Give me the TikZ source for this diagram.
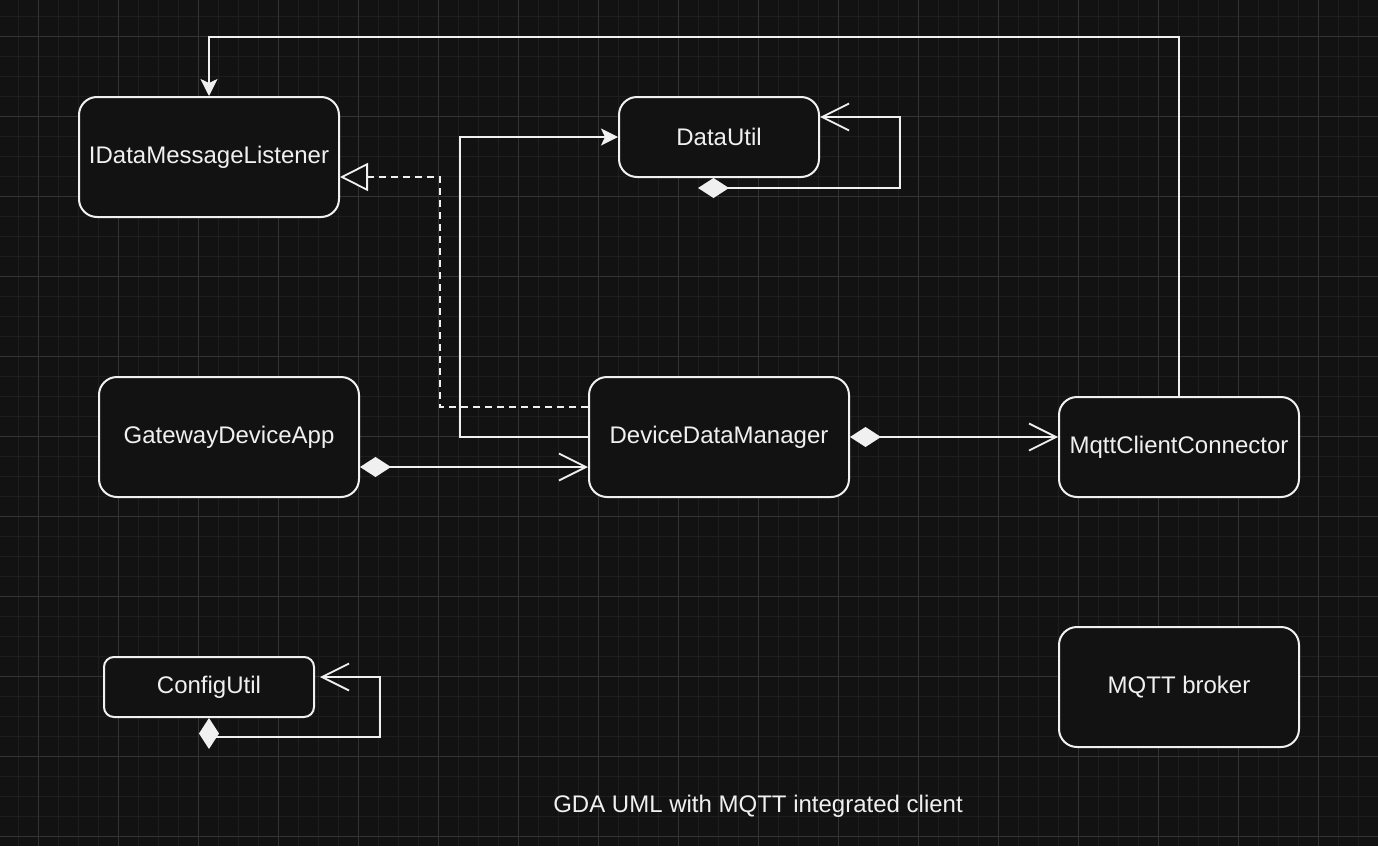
\documentclass[tikz,border=0pt]{standalone}
\usepackage{fontspec}
\setmainfont{Liberation Sans}
\usetikzlibrary{arrows.meta,calc}
\definecolor{bgc}{HTML}{121212}
\definecolor{gridminor}{HTML}{1E1E1E}
\definecolor{gridmajor}{HTML}{333333}
\definecolor{fgc}{HTML}{F0F0F0}
\tikzset{
  cls/.style={draw=fgc, fill=bgc, line width=2pt, rounded corners=18pt, text=fgc,
    inner sep=0pt, minimum width=260pt, minimum height=120pt,
    font=\fontsize{24}{28}\selectfont},
  link/.style={draw=fgc, line width=1.8pt},
  comp/.style={link, {Diamond[length=31pt,width=20pt,fill=fgc]}-{Straight Barb[length=27pt,width=27pt]}},
  feed/.style={link, -{Stealth[length=17pt,width=17pt,inset=4pt,fill=fgc]}},
  realize/.style={link, dash pattern=on 7pt off 5pt, -{Triangle[length=28pt,width=28pt,fill=bgc]}}
}
\begin{document}
\begin{tikzpicture}[x=1pt,y=-1pt]
  \useasboundingbox (0,0) rectangle (1378,846);
  \fill[bgc] (0,0) rectangle (1378,846);
  % grid
  \foreach \x in {18,38,...,1378} \draw[gridminor,line width=1pt] (\x,0) -- (\x,846);
  \foreach \y in {16,36,...,846} \draw[gridminor,line width=1pt] (0,\y) -- (1378,\y);
  \foreach \x in {38,118,...,1378} \draw[gridmajor,line width=1pt] (\x,0) -- (\x,846);
  \foreach \y in {36,116,...,846} \draw[gridmajor,line width=1pt] (0,\y) -- (1378,\y);

  \node[cls] (listener) at (209,157) {IDataMessageListener};
  \node[cls, minimum width=200pt, minimum height=80pt] (datautil) at (719,137) {DataUtil};
  \node[cls] (gda) at (229,437) {GatewayDeviceApp};
  \node[cls] (ddm) at (719,437) {DeviceDataManager};
  \node[cls, minimum width=240pt, minimum height=100pt] (mqttcc) at (1179,447) {MqttClientConnector};
  \node[cls, minimum width=210pt, minimum height=60pt, rounded corners=10pt] (configutil) at (209,687) {ConfigUtil};
  \node[cls, minimum width=240pt] (broker) at (1179,687) {MQTT broker};
  \node[text=fgc, font=\fontsize{24}{28}\selectfont] (title) at (758,806) {GDA UML with MQTT integrated client};

  \coordinate (topline) at (0,37);
  \draw[feed] (mqttcc.north) |- (listener.north |- topline) -- (listener.north);
  \draw[realize] ($(ddm.west)+(0,-30)$) -| ($(listener.east)+(100,20)$) -- ($(listener.east)+(0,20)$);
  \draw[feed] (ddm.west) -| ($(datautil.west)+(-158,0)$) -- (datautil.west);
  \draw[comp] ($(datautil.south)+(-21,10)$) -| ($(datautil.east)+(80,-20)$) -- ($(datautil.east)+(0,-20)$);
  \draw[comp] ($(gda.east)+(0,30)$) -- ($(ddm.west)+(0,30)$);
  \draw[comp] (ddm.east) -- (mqttcc.west |- ddm.east);
  \draw[comp] (configutil.south) |- ($(configutil.east)+(65,50)$) |- ($(configutil.east)+(5,-10)$);
\end{tikzpicture}
\end{document}
